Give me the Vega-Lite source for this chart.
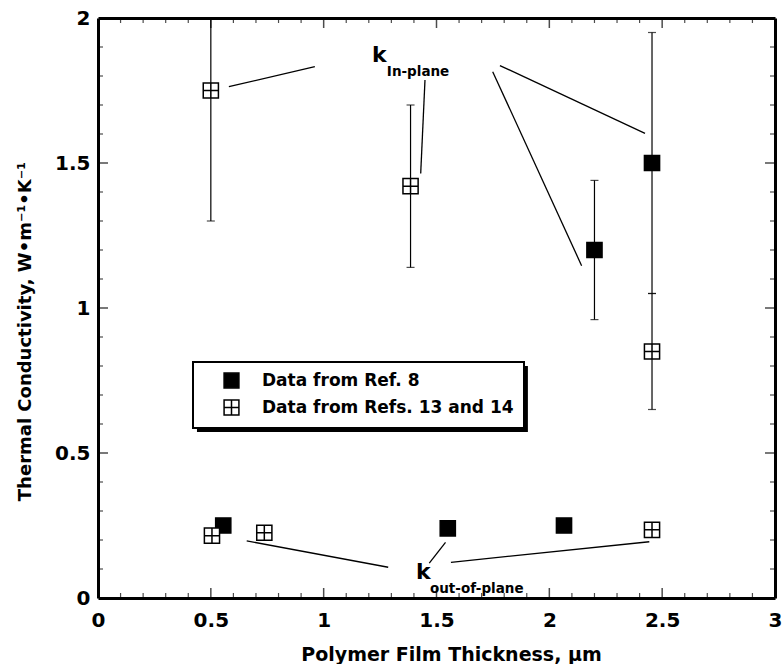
{
  "$schema": "https://vega.github.io/schema/vega-lite/v6.json",
  "autosize": "none",
  "width": 677,
  "height": 580,
  "padding": {"left": 98, "top": 18, "right": 8, "bottom": 66},
  "background": "white",
  "config": {
    "view": {"stroke": null},
    "legend": {"strokeWidth": 2},
    "axis": {
      "labelFont": "DejaVu Sans", "labelFontWeight": "bold", "labelFontSize": 20, "labelColor": "black",
      "titleFont": "DejaVu Sans", "titleFontWeight": "bold", "titleFontSize": 18, "titleColor": "black",
      "domainColor": "black", "tickColor": "black", "grid": false, "labelFlush": false, "labelOverlap": false
    }
  },
  "datasets": {
    "points": [
      {"thickness": 0.555, "k": 0.25, "source": "Data from Ref. 8"},
      {"thickness": 1.55, "k": 0.24, "source": "Data from Ref. 8"},
      {"thickness": 2.065, "k": 0.25, "source": "Data from Ref. 8"},
      {"thickness": 2.2, "k": 1.2, "lo": 0.96, "hi": 1.44, "source": "Data from Ref. 8"},
      {"thickness": 2.455, "k": 1.5, "lo": 1.05, "hi": 1.95, "source": "Data from Ref. 8"},
      {"thickness": 0.5, "k": 1.75, "lo": 1.3, "hi": 2.2, "source": "Data from Refs. 13 and 14"},
      {"thickness": 1.385, "k": 1.42, "lo": 1.14, "hi": 1.7, "source": "Data from Refs. 13 and 14"},
      {"thickness": 2.455, "k": 0.85, "lo": 0.65, "hi": 1.05, "source": "Data from Refs. 13 and 14"},
      {"thickness": 0.505, "k": 0.215, "source": "Data from Refs. 13 and 14"},
      {"thickness": 0.737, "k": 0.225, "source": "Data from Refs. 13 and 14"},
      {"thickness": 2.455, "k": 0.235, "source": "Data from Refs. 13 and 14"}
    ],
    "segments": [
      {"x1": 0.580, "y1": 1.763, "x2": 0.961, "y2": 1.832},
      {"x1": 1.449, "y1": 1.786, "x2": 1.430, "y2": 1.464},
      {"x1": 1.749, "y1": 1.815, "x2": 2.143, "y2": 1.146},
      {"x1": 1.781, "y1": 1.836, "x2": 2.424, "y2": 1.602},
      {"x1": 0.659, "y1": 0.197, "x2": 1.286, "y2": 0.106},
      {"x1": 1.468, "y1": 0.120, "x2": 1.540, "y2": 0.192},
      {"x1": 1.564, "y1": 0.123, "x2": 2.443, "y2": 0.194}
    ],
    "bigk": [
      {"x": 1.214, "y": 1.849, "label": "k"},
      {"x": 1.409, "y": 0.064, "label": "k"}
    ],
    "subs": [
      {"x": 1.28, "y": 1.80, "label": "In-plane"},
      {"x": 1.471, "y": 0.016, "label": "out-of-plane"}
    ],
    "shadow": [
      {"x1": 0.4386, "x2": 1.905, "y1": 0.5724, "y2": 0.8}
    ],
    "majorX": [{"v": 0.5}, {"v": 1}, {"v": 1.5}, {"v": 2}, {"v": 2.5}],
    "minorX": [{"v": 0.1}, {"v": 0.2}, {"v": 0.3}, {"v": 0.4}, {"v": 0.6}, {"v": 0.7}, {"v": 0.8}, {"v": 0.9},
               {"v": 1.1}, {"v": 1.2}, {"v": 1.3}, {"v": 1.4}, {"v": 1.6}, {"v": 1.7}, {"v": 1.8}, {"v": 1.9},
               {"v": 2.1}, {"v": 2.2}, {"v": 2.3}, {"v": 2.4}, {"v": 2.6}, {"v": 2.7}, {"v": 2.8}, {"v": 2.9}],
    "majorY": [{"v": 0.5}, {"v": 1}, {"v": 1.5}],
    "minorY": [{"v": 0.1}, {"v": 0.2}, {"v": 0.3}, {"v": 0.4}, {"v": 0.6}, {"v": 0.7}, {"v": 0.8}, {"v": 0.9},
               {"v": 1.1}, {"v": 1.2}, {"v": 1.3}, {"v": 1.4}, {"v": 1.6}, {"v": 1.7}, {"v": 1.8}, {"v": 1.9}]
  },
  "resolve": {"axis": {"x": "independent", "y": "independent"}},
  "layer": [
    {
      "data": {"name": "majorX"},
      "mark": {"type": "tick", "color": "black", "orient": "vertical", "size": 10, "thickness": 1.5, "yOffset": -5},
      "encoding": {
        "x": {"field": "v", "type": "quantitative", "scale": {"domain": [0, 3], "nice": false}, "axis": null},
        "y": {"datum": 0, "type": "quantitative", "scale": {"domain": [0, 2], "nice": false}, "axis": null}
      }
    },
    {
      "data": {"name": "majorX"},
      "mark": {"type": "tick", "color": "black", "orient": "vertical", "size": 10, "thickness": 1.5, "yOffset": 5},
      "encoding": {
        "x": {"field": "v", "type": "quantitative", "scale": {"domain": [0, 3], "nice": false}, "axis": null},
        "y": {"datum": 2, "type": "quantitative", "scale": {"domain": [0, 2], "nice": false}, "axis": null}
      }
    },
    {
      "data": {"name": "minorX"},
      "mark": {"type": "tick", "color": "black", "orient": "vertical", "size": 5, "thickness": 1.2, "yOffset": -2.5},
      "encoding": {
        "x": {"field": "v", "type": "quantitative", "scale": {"domain": [0, 3], "nice": false}, "axis": null},
        "y": {"datum": 0, "type": "quantitative", "scale": {"domain": [0, 2], "nice": false}, "axis": null}
      }
    },
    {
      "data": {"name": "minorX"},
      "mark": {"type": "tick", "color": "black", "orient": "vertical", "size": 5, "thickness": 1.2, "yOffset": 2.5},
      "encoding": {
        "x": {"field": "v", "type": "quantitative", "scale": {"domain": [0, 3], "nice": false}, "axis": null},
        "y": {"datum": 2, "type": "quantitative", "scale": {"domain": [0, 2], "nice": false}, "axis": null}
      }
    },
    {
      "data": {"name": "majorY"},
      "mark": {"type": "tick", "color": "black", "orient": "horizontal", "size": 10, "thickness": 1.5, "xOffset": 5},
      "encoding": {
        "x": {"datum": 0, "type": "quantitative", "scale": {"domain": [0, 3], "nice": false}, "axis": null},
        "y": {"field": "v", "type": "quantitative", "scale": {"domain": [0, 2], "nice": false}, "axis": null}
      }
    },
    {
      "data": {"name": "majorY"},
      "mark": {"type": "tick", "color": "black", "orient": "horizontal", "size": 10, "thickness": 1.5, "xOffset": -5},
      "encoding": {
        "x": {"datum": 3, "type": "quantitative", "scale": {"domain": [0, 3], "nice": false}, "axis": null},
        "y": {"field": "v", "type": "quantitative", "scale": {"domain": [0, 2], "nice": false}, "axis": null}
      }
    },
    {
      "data": {"name": "minorY"},
      "mark": {"type": "tick", "color": "black", "orient": "horizontal", "size": 5, "thickness": 1.2, "xOffset": 2.5},
      "encoding": {
        "x": {"datum": 0, "type": "quantitative", "scale": {"domain": [0, 3], "nice": false}, "axis": null},
        "y": {"field": "v", "type": "quantitative", "scale": {"domain": [0, 2], "nice": false}, "axis": null}
      }
    },
    {
      "data": {"name": "minorY"},
      "mark": {"type": "tick", "color": "black", "orient": "horizontal", "size": 5, "thickness": 1.2, "xOffset": -2.5},
      "encoding": {
        "x": {"datum": 3, "type": "quantitative", "scale": {"domain": [0, 3], "nice": false}, "axis": null},
        "y": {"field": "v", "type": "quantitative", "scale": {"domain": [0, 2], "nice": false}, "axis": null}
      }
    },
    {
      "data": {"name": "shadow"},
      "mark": {"type": "rect", "color": "black"},
      "encoding": {
        "x": {"field": "x1", "type": "quantitative", "scale": {"domain": [0, 3], "nice": false}, "axis": null},
        "x2": {"field": "x2"},
        "y": {"field": "y1", "type": "quantitative", "scale": {"domain": [0, 2], "nice": false}, "axis": null},
        "y2": {"field": "y2"}
      }
    },
    {
      "data": {"name": "points"},
      "transform": [{"filter": "isValid(datum.lo)"}],
      "mark": {"type": "rule", "color": "black", "strokeWidth": 1.2, "clip": true},
      "encoding": {
        "x": {"field": "thickness", "type": "quantitative", "scale": {"domain": [0, 3], "nice": false}, "axis": null},
        "y": {"field": "lo", "type": "quantitative", "scale": {"domain": [0, 2], "nice": false}, "axis": null},
        "y2": {"field": "hi"}
      }
    },
    {
      "data": {"name": "points"},
      "transform": [{"filter": "isValid(datum.lo)"}],
      "mark": {"type": "tick", "color": "black", "orient": "horizontal", "size": 8, "thickness": 1.2, "clip": true},
      "encoding": {
        "x": {"field": "thickness", "type": "quantitative", "scale": {"domain": [0, 3], "nice": false}, "axis": null},
        "y": {"field": "lo", "type": "quantitative", "scale": {"domain": [0, 2], "nice": false}, "axis": null}
      }
    },
    {
      "data": {"name": "points"},
      "transform": [{"filter": "isValid(datum.hi)"}],
      "mark": {"type": "tick", "color": "black", "orient": "horizontal", "size": 8, "thickness": 1.2, "clip": true},
      "encoding": {
        "x": {"field": "thickness", "type": "quantitative", "scale": {"domain": [0, 3], "nice": false}, "axis": null},
        "y": {"field": "hi", "type": "quantitative", "scale": {"domain": [0, 2], "nice": false}, "axis": null}
      }
    },
    {
      "data": {"name": "segments"},
      "mark": {"type": "rule", "color": "black", "strokeWidth": 1.3},
      "encoding": {
        "x": {"field": "x1", "type": "quantitative", "scale": {"domain": [0, 3], "nice": false},
          "axis": {"orient": "top", "ticks": false, "labels": false, "domainWidth": 3, "title": null}},
        "x2": {"field": "x2"},
        "y": {"field": "y1", "type": "quantitative", "scale": {"domain": [0, 2], "nice": false},
          "axis": {"orient": "right", "ticks": false, "labels": false, "domainWidth": 3, "title": null}},
        "y2": {"field": "y2"}
      }
    },
    {
      "data": {"name": "points"},
      "mark": {"type": "point", "filled": true, "stroke": "black", "strokeWidth": 1.5, "size": 230, "opacity": 1},
      "encoding": {
        "x": {"field": "thickness", "type": "quantitative", "scale": {"domain": [0, 3], "nice": false},
          "axis": {"orient": "bottom", "values": [0, 0.5, 1, 1.5, 2, 2.5, 3], "format": "~g", "ticks": false,
            "domainWidth": 3, "labelPadding": 12, "title": "Polymer Film Thickness, μm", "titleFontSize": 19, "titlePadding": 15, "titleX": 353}},
        "y": {"field": "k", "type": "quantitative", "scale": {"domain": [0, 2], "nice": false},
          "axis": {"orient": "left", "values": [0, 0.5, 1, 1.5, 2], "format": "~g", "ticks": false,
            "domainWidth": 3, "labelPadding": 8, "title": "Thermal Conductivity, W•m⁻¹•K⁻¹", "titlePadding": 20, "titleY": 313}},
        "color": {"field": "source", "type": "nominal",
          "scale": {"domain": ["Data from Ref. 8", "Data from Refs. 13 and 14"], "range": ["black", "white"]},
          "legend": {"orient": "none", "legendX": 95, "legendY": 344, "title": null, "strokeColor": "black", "fillColor": "white",
            "padding": 10, "symbolOffset": 20, "labelOffset": 22, "rowPadding": 6,
            "labelFont": "DejaVu Sans", "labelFontWeight": "bold", "labelFontSize": 17, "labelColor": "black", "labelLimit": 500,
            "symbolSize": 220}},
        "shape": {"field": "source", "type": "nominal",
          "scale": {"domain": ["Data from Ref. 8", "Data from Refs. 13 and 14"], "range": ["square", "M-1,-1H1V1H-1Z M0,-1V1 M-1,0H1"]}}
      }
    },
    {
      "data": {"name": "bigk"},
      "mark": {"type": "text", "font": "DejaVu Sans", "fontWeight": "bold", "fontSize": 22, "align": "left", "baseline": "alphabetic", "color": "black"},
      "encoding": {
        "x": {"field": "x", "type": "quantitative", "scale": {"domain": [0, 3], "nice": false}, "axis": null},
        "y": {"field": "y", "type": "quantitative", "scale": {"domain": [0, 2], "nice": false}, "axis": null},
        "text": {"field": "label"}
      }
    },
    {
      "data": {"name": "subs"},
      "mark": {"type": "text", "font": "DejaVu Sans", "fontWeight": "bold", "fontSize": 13.5, "align": "left", "baseline": "alphabetic", "color": "black"},
      "encoding": {
        "x": {"field": "x", "type": "quantitative", "scale": {"domain": [0, 3], "nice": false}, "axis": null},
        "y": {"field": "y", "type": "quantitative", "scale": {"domain": [0, 2], "nice": false}, "axis": null},
        "text": {"field": "label"}
      }
    }
  ]
}
